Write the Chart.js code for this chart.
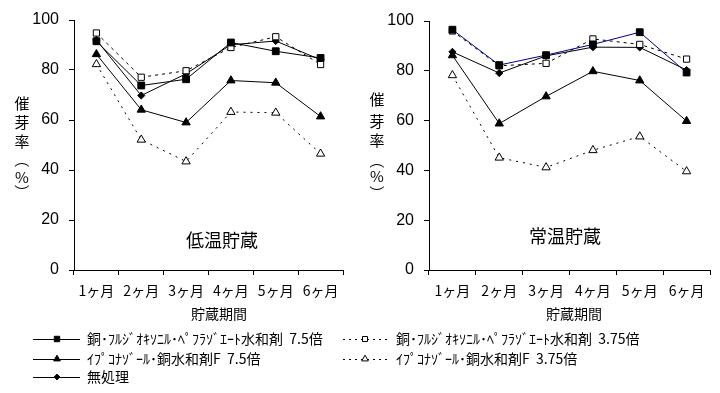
<!DOCTYPE html>
<html><head><meta charset="utf-8">
<script src="https://cdn.jsdelivr.net/npm/chart.js@4.4.1/dist/chart.umd.min.js"></script>
<style>
html,body{margin:0;padding:0;background:#fff;}
body{width:720px;height:393px;overflow:hidden;position:relative;}
canvas{position:absolute;top:0;}
</style></head>
<body>
<canvas id="c1" width="720" height="393" style="left:0;width:720px;height:393px"></canvas>
<canvas id="c2" width="360" height="393" style="left:360px;width:360px;height:393px"></canvas>
<script>
// ---- data ----
const months = ['1ヶ月','2ヶ月','3ヶ月','4ヶ月','5ヶ月','6ヶ月'];
const yTicks = [0,20,40,60,80,100];
const seriesNames = [
  '銅･ﾌﾙｼﾞｵｷｿﾆﾙ･ﾍﾟﾌﾗｿﾞｴｰﾄ水和剤  7.5倍',
  '銅･ﾌﾙｼﾞｵｷｿﾆﾙ･ﾍﾟﾌﾗｿﾞｴｰﾄ水和剤  3.75倍',
  'ｲﾌﾟｺﾅｿﾞｰﾙ･銅水和剤F  7.5倍',
  'ｲﾌﾟｺﾅｿﾞｰﾙ･銅水和剤F  3.75倍',
  '無処理'
];
// 低温貯蔵
const lowA = [91.5, 73.8, 76.3, 91.0, 87.5, 84.8];
const lowB = [94.8, 77.1, 79.7, 89.0, 93.3, 82.2];
const lowC = [86.3, 64.1, 59.0, 75.8, 74.9, 61.4];
const lowD = [82.3, 52.1, 43.4, 63.2, 62.9, 46.5];
const lowE = [92.0, 69.8, 78.5, 90.1, 91.6, 84.1];
// 常温貯蔵
const normA = [96.5, 82.3, 86.3, 90.6, 95.5, 79.3];
const normB = [96.0, 82.0, 83.0, 92.8, 90.6, 84.7];
const normC = [86.2, 58.8, 69.7, 79.8, 76.1, 59.8];
const normD = [78.2, 45.1, 41.2, 48.1, 53.6, 39.6];
const normE = [87.6, 79.1, 86.0, 89.5, 89.4, 80.3];
const panelTitles = ['低温貯蔵','常温貯蔵'];
const xTitle = '貯蔵期間';
const yTitleChars = ['催','芽','率','（','%','）'];

// ---- styling helpers ----
const CJK = '"Noto Sans CJK JP", "Noto Sans", sans-serif';
function makeDatasets(vals, lineAColor){
  const styles = [
    {pointStyle:'rect', r:4.8, fill:'#000', dash:[], color:lineAColor},
    {pointStyle:'rect', r:4.4, fill:'#fff', dash:[3,4], color:'#000'},
    {pointStyle:'triangle', r:4.8, fill:'#000', dash:[], color:'#000'},
    {pointStyle:'triangle', r:4.8, fill:'#fff', dash:[2,5], color:'#000'},
    {pointStyle:'rectRot', r:3.6, fill:'#000', dash:[], color:'#000'}
  ];
  return vals.map((v,i)=>({
    label: seriesNames[i],
    data: v,
    borderColor: styles[i].color,
    borderWidth: 1,
    borderDash: styles[i].dash,
    pointStyle: styles[i].pointStyle,
    pointRadius: styles[i].r,
    pointHoverRadius: styles[i].r,
    pointBackgroundColor: styles[i].fill,
    pointBorderColor: '#000',
    pointBorderWidth: 1,
    tension: 0,
    fill: false
  }));
}

function drawMarker(ctx, style, r, x, y, fill){
  ctx.save();
  ctx.fillStyle = fill; ctx.strokeStyle = '#000'; ctx.lineWidth = 1; ctx.setLineDash([]);
  if (Chart.helpers && Chart.helpers.drawPoint) {
    Chart.helpers.drawPoint(ctx, {pointStyle: style, radius: r, borderWidth: 1, rotation: 0}, x, y);
  } else {
    ctx.beginPath();
    if (style==='rect'){ const s=r*Math.SQRT1_2; ctx.rect(x-s,y-s,2*s,2*s); }
    else if (style==='triangle'){ ctx.moveTo(x,y-r); ctx.lineTo(x+r*0.866,y+r/2); ctx.lineTo(x-r*0.866,y+r/2); ctx.closePath(); }
    else { ctx.moveTo(x,y-r); ctx.lineTo(x+r,y); ctx.lineTo(x,y+r); ctx.lineTo(x-r,y); ctx.closePath(); }
    ctx.fill(); ctx.stroke();
  }
  ctx.restore();
}

const textPlugin = {
  id: 'panelText',
  afterDraw(chart, args, o){
    const ctx = chart.ctx;
    ctx.save();
    ctx.fillStyle = '#000';
    ctx.textAlign = 'center'; ctx.textBaseline = 'middle';
    // panel label
    ctx.font = '18px ' + CJK;
    ctx.fillText(o.panel, o.panelX, o.panelY);
    // x title
    ctx.font = '14px ' + CJK;
    ctx.fillText(xTitle, o.xtX, o.xtY);
    // y title (stacked, brackets turned for vertical writing)
    ctx.font = '15px ' + CJK;
    yTitleChars.forEach((c,i)=>{
      if (c === '（' || c === '）') {
        ctx.save();
        ctx.translate(o.ytX, o.ytY[i]);
        ctx.rotate(Math.PI/2);
        ctx.fillText(c, 0, 0);
        ctx.restore();
      } else {
        ctx.fillText(c, o.ytX, o.ytY[i]);
      }
    });
    ctx.restore();
  }
};

const legendPlugin = {
  id: 'bottomLegend',
  afterDraw(chart, args, o){
    if (!o.show) return;
    const ctx = chart.ctx;
    const slots = [
      {x1:33,x2:80,mx:57,tx:87,y:339},
      {x1:343,x2:390,mx:365,tx:396,y:339},
      {x1:33,x2:80,mx:57,tx:87,y:359},
      {x1:343,x2:390,mx:365,tx:396,y:359},
      {x1:33,x2:80,mx:57,tx:87,y:377}
    ];
    chart.data.datasets.forEach((ds,i)=>{
      const s = slots[i];
      ctx.save();
      ctx.strokeStyle = '#000'; ctx.lineWidth = 1;
      ctx.setLineDash(ds.borderDash.length ? [2,4] : []);
      ctx.beginPath(); ctx.moveTo(s.x1, s.y+0.5); ctx.lineTo(s.x2, s.y+0.5); ctx.stroke();
      ctx.restore();
      drawMarker(ctx, ds.pointStyle, ds.pointRadius*0.8, s.mx, s.y, ds.pointBackgroundColor);
      ctx.save();
      ctx.fillStyle = '#000'; ctx.font = '14px ' + CJK;
      ctx.textAlign = 'left'; ctx.textBaseline = 'middle';
      ctx.fillText(ds.label, s.tx, s.y);
      ctx.restore();
    });
  }
};

function makeChart(id, vals, lineAColor, pad, yWidth, textOpts, showLegend){
  return new Chart(document.getElementById(id), {
    type: 'line',
    data: { labels: months, datasets: makeDatasets(vals, lineAColor) },
    options: {
      responsive: false,
      animation: false,
      events: [],
      layout: { padding: pad },
      plugins: {
        legend: { display: false },
        tooltip: { enabled: false },
        panelText: textOpts,
        bottomLegend: { show: showLegend }
      },
      scales: {
        x: {
          offset: true,
          grid: { offset: true, drawOnChartArea: false, drawTicks: true, tickLength: 5, color: '#000' },
          border: { display: true, color: '#000', width: 1 },
          ticks: { color: '#000', font: { family: CJK, size: 14 }, padding: 7, maxRotation: 0 },
          afterFit(axis){ axis.height = 123; }
        },
        y: {
          min: 0, max: 100,
          afterBuildTicks(axis){ axis.ticks = yTicks.map(v=>({value:v})); },
          grid: { drawOnChartArea: false, drawTicks: true, tickLength: 5, color: '#000' },
          border: { display: true, color: '#000', width: 1 },
          ticks: { color: '#000', font: { family: '"Liberation Sans", Arial, sans-serif', size: 16 }, padding: 10 },
          afterFit(axis){ axis.width = yWidth; }
        }
      }
    },
    plugins: [textPlugin, legendPlugin]
  });
}

makeChart('c1', [lowA, lowB, lowC, lowD, lowE], '#000',
  {left:0, top:20, right:377, bottom:0}, 74,
  {panel: panelTitles[0], panelX:222, panelY:240, xtX:219, xtY:314, ytX:22, ytY:[103,122,141,160,177,192]},
  true);
makeChart('c2', [normA, normB, normC, normD, normE], '#000080',
  {left:0, top:21, right:10, bottom:0}, 69,
  {panel: panelTitles[1], panelX:205, panelY:236, xtX:214, xtY:314, ytX:17, ytY:[99,121,140,161,176,193]},
  false);
</script>
</body></html>
